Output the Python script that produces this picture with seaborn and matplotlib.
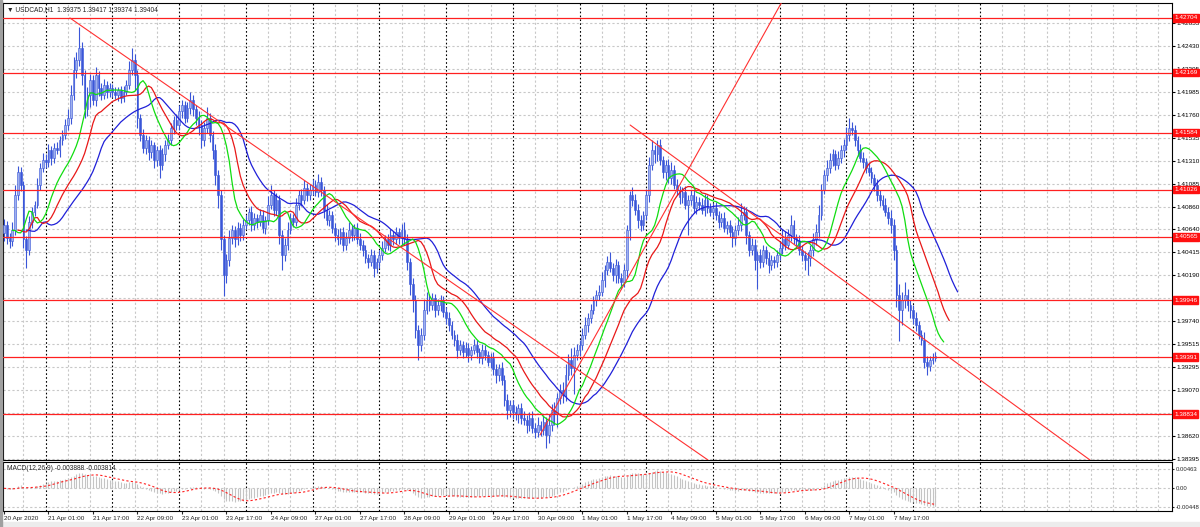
import numpy as np
import pandas as pd
import matplotlib
matplotlib.use('Agg')
import matplotlib.pyplot as plt
from matplotlib.patches import Rectangle
import seaborn as sns

# USDCAD H1 bars, 20 Apr 2020 09:00 .. 8 May 2020 08:00 (one row per day)
first_open = 1.4060
close = [
    1.4068, 1.4055, 1.4052, 1.4063, 1.4097, 1.4120, 1.4107, 1.4054, 1.4044, 1.4071, 1.4081, 1.4088, 1.4107, 1.4124, 1.4132,
    1.4130, 1.4141, 1.4134, 1.4143, 1.4141, 1.4151, 1.4156, 1.4166, 1.4173, 1.4195, 1.4220, 1.4229, 1.4241, 1.4215, 1.4181, 1.4195, 1.4210, 1.4190, 1.4215, 1.4202, 1.4195, 1.4205, 1.4198, 1.4202,
    1.4198, 1.4195, 1.4200, 1.4192, 1.4198, 1.4205, 1.4220, 1.4229, 1.4215, 1.4173, 1.4156, 1.4143, 1.4151, 1.4139, 1.4146, 1.4132, 1.4141, 1.4127, 1.4137, 1.4146, 1.4151, 1.4163, 1.4171, 1.4166,
    1.4179, 1.4185, 1.4173, 1.4182, 1.4190, 1.4181, 1.4173, 1.4166, 1.4151, 1.4163, 1.4173, 1.4156, 1.4141, 1.4117, 1.4097, 1.4054, 1.4019, 1.4034, 1.4055, 1.4063, 1.4054, 1.4065, 1.4058, 1.4068,
    1.4073, 1.4081, 1.4068, 1.4075, 1.4071, 1.4078, 1.4065, 1.4073, 1.4088, 1.4097, 1.4083, 1.4093, 1.4058, 1.4039, 1.4049, 1.4063, 1.4075, 1.4071, 1.4088, 1.4097, 1.4093, 1.4104, 1.4097, 1.4102,
    1.4107, 1.4100, 1.4110, 1.4102, 1.4083, 1.4073, 1.4078, 1.4065, 1.4058, 1.4054, 1.4061, 1.4049, 1.4055, 1.4063, 1.4058, 1.4065, 1.4054, 1.4049, 1.4044, 1.4036, 1.4032, 1.4039, 1.4026, 1.4032,
    1.4039, 1.4046, 1.4054, 1.4049, 1.4058, 1.4054, 1.4061, 1.4055, 1.4063, 1.4054, 1.4032, 1.4010, 1.3995, 1.3966, 1.3951, 1.3961, 1.3985, 1.3995, 1.3990, 1.3997, 1.3985, 1.3990, 1.3995, 1.3983,
    1.3977, 1.3970, 1.3961, 1.3956, 1.3946, 1.3951, 1.3944, 1.3948, 1.3941, 1.3946, 1.3951, 1.3944, 1.3938, 1.3946, 1.3941, 1.3934, 1.3938, 1.3927, 1.3922, 1.3928, 1.3917, 1.3897, 1.3887, 1.3892,
    1.3885, 1.3883, 1.3889, 1.3880, 1.3878, 1.3873, 1.3880, 1.3870, 1.3866, 1.3873, 1.3868, 1.3876, 1.3863, 1.3873, 1.3887, 1.3883, 1.3899, 1.3907, 1.3902, 1.3922, 1.3936, 1.3928, 1.3941, 1.3946,
    1.3951, 1.3961, 1.3970, 1.3977, 1.3985, 1.3995, 1.4000, 1.4003, 1.4014, 1.4024, 1.4032, 1.4026, 1.4019, 1.4029, 1.4016, 1.4012, 1.4024, 1.4063, 1.4097, 1.4093, 1.4083, 1.4073, 1.4068, 1.4078,
    1.4097, 1.4127, 1.4141, 1.4137, 1.4146, 1.4132, 1.4120, 1.4127, 1.4114, 1.4122, 1.4107, 1.4102, 1.4095, 1.4100, 1.4088, 1.4093, 1.4097, 1.4085, 1.4091, 1.4088, 1.4083, 1.4093, 1.4085, 1.4081,
    1.4085, 1.4078, 1.4071, 1.4075, 1.4065, 1.4068, 1.4061, 1.4055, 1.4063, 1.4068, 1.4078, 1.4081, 1.4058, 1.4044, 1.4049, 1.4034, 1.4039, 1.4032, 1.4044, 1.4036, 1.4029, 1.4034, 1.4032, 1.4039,
    1.4046, 1.4054, 1.4049, 1.4058, 1.4068, 1.4055, 1.4052, 1.4044, 1.4039, 1.4034, 1.4036, 1.4044, 1.4054, 1.4061, 1.4078, 1.4102, 1.4117, 1.4124, 1.4132, 1.4137, 1.4127, 1.4134, 1.4141, 1.4146,
    1.4156, 1.4163, 1.4161, 1.4151, 1.4141, 1.4134, 1.4130, 1.4124, 1.4120, 1.4114, 1.4107, 1.4097, 1.4093, 1.4088, 1.4081, 1.4075, 1.4068, 1.4044, 1.4000, 1.3985, 1.3995, 1.4000, 1.3990, 1.3985,
    1.3977, 1.3970, 1.3961, 1.3956, 1.3934, 1.3930, 1.3936, 1.3938, 1.3940,
]
# wick lengths above / below the body, in pips
wick_up = [
    6, 4, 5, 8, 10, 6, 5, 4, 3, 6, 5, 4, 7, 5, 6,
    5, 6, 4, 5, 6, 4, 5, 6, 8, 10, 12, 8, 21, 6, 5, 8, 6, 5, 7, 4, 5, 6, 4, 5,
    4, 5, 3, 4, 6, 5, 8, 12, 6, 5, 4, 6, 5, 4, 5, 3, 4, 5, 6, 5, 6, 5, 4, 6,
    6, 5, 4, 6, 8, 5, 4, 6, 5, 6, 10, 5, 4, 6, 5, 5, 4, 6, 8, 5, 4, 6, 5, 6,
    5, 4, 6, 5, 4, 6, 5, 4, 8, 10, 5, 6, 4, 5, 6, 8, 5, 4, 6, 5, 6, 8, 5, 6,
    6, 5, 8, 5, 4, 6, 5, 4, 5, 6, 4, 5, 6, 8, 5, 4, 5, 6, 4, 5, 4, 6, 5, 4,
    5, 6, 4, 5, 6, 4, 5, 4, 6, 8, 5, 4, 6, 5, 4, 6, 10, 8, 6, 5, 4, 6, 5, 4,
    5, 6, 4, 5, 6, 5, 4, 6, 5, 4, 6, 5, 4, 6, 5, 4, 5, 6, 5, 4, 6, 5, 6, 5,
    5, 6, 4, 5, 6, 4, 5, 6, 5, 8, 4, 6, 5, 10, 6, 8, 5, 6, 8, 10, 6, 12, 8, 6,
    5, 6, 8, 5, 6, 4, 5, 6, 8, 5, 6, 10, 5, 6, 4, 5, 6, 5, 4, 8, 5, 6, 5, 4,
    6, 8, 10, 5, 5, 6, 4, 5, 6, 8, 5, 6, 4, 5, 6, 4, 5, 6, 5, 4, 6, 5, 4, 5,
    5, 6, 4, 5, 6, 4, 5, 6, 5, 8, 12, 6, 5, 4, 6, 5, 4, 6, 5, 4, 6, 5, 4, 5,
    6, 10, 8, 6, 10, 5, 4, 6, 5, 4, 6, 5, 6, 8, 10, 6, 5, 8, 6, 5, 4, 6, 5, 6,
    8, 10, 6, 5, 4, 6, 5, 4, 6, 5, 4, 6, 5, 4, 6, 5, 8, 6, 5, 10, 8, 12, 6, 5,
    5, 6, 4, 5, 8, 6, 4, 5, 4,
]
wick_dn = [
    8, 5, 6, 4, 5, 4, 6, 8, 18, 5, 6, 4, 3, 5, 4,
    6, 5, 7, 5, 4, 6, 5, 4, 5, 6, 5, 8, 6, 10, 8, 6, 12, 5, 6, 8, 5, 4, 6, 5,
    5, 4, 6, 5, 4, 3, 4, 5, 15, 10, 6, 5, 6, 7, 5, 8, 6, 13, 5, 6, 4, 5, 6, 5,
    5, 6, 5, 4, 5, 6, 7, 10, 8, 6, 5, 7, 8, 10, 12, 10, 20, 8, 6, 5, 7, 5, 6, 5,
    4, 5, 6, 5, 6, 4, 5, 6, 5, 4, 6, 5, 8, 15, 6, 5, 4, 5, 4, 5, 6, 4, 5, 4,
    5, 4, 5, 6, 8, 5, 6, 5, 6, 5, 4, 6, 5, 4, 6, 5, 4, 5, 6, 5, 6, 4, 9, 5,
    6, 5, 4, 5, 6, 5, 4, 5, 6, 5, 8, 10, 12, 8, 15, 6, 5, 4, 6, 5, 7, 5, 6, 5,
    6, 5, 4, 6, 8, 5, 6, 5, 7, 5, 4, 6, 5, 6, 5, 4, 6, 5, 8, 6, 5, 6, 8, 6,
    6, 5, 8, 6, 5, 8, 6, 5, 6, 5, 6, 5, 13, 8, 6, 10, 12, 6, 8, 6, 5, 6, 25, 5,
    6, 5, 4, 6, 5, 4, 6, 5, 4, 6, 5, 4, 6, 8, 5, 6, 4, 8, 10, 6, 5, 8, 6, 5,
    5, 6, 5, 8, 6, 5, 6, 8, 5, 6, 4, 5, 6, 5, 4, 30, 5, 5, 6, 5, 4, 6, 5, 4,
    6, 5, 6, 5, 4, 6, 5, 8, 6, 5, 6, 5, 8, 6, 5, 10, 28, 6, 5, 6, 8, 5, 6, 5,
    5, 6, 5, 4, 6, 5, 6, 5, 6, 10, 15, 8, 6, 5, 6, 5, 4, 6, 5, 6, 5, 4, 5, 6,
    5, 6, 5, 6, 5, 4, 6, 5, 4, 5, 6, 5, 6, 5, 4, 6, 8, 10, 12, 30, 15, 8, 6, 8,
    6, 5, 4, 5, 6, 8, 5, 4, 3,
]

levels = [1.42704, 1.42169, 1.41584, 1.41026, 1.40565, 1.39946, 1.39391, 1.38834]
# trend lines: (bar, price) -> (bar, price)
trend_lines = [
    ((23.7, 1.42704), (253.2, 1.38385)),
    ((192.8, 1.38630), (281.0, 1.42920)),
    ((225.2, 1.41658), (390.6, 1.38385)),
]
price_ticks = [1.42655, 1.42430, 1.42205, 1.41985, 1.41760, 1.41535, 1.41310, 1.41085, 1.40860, 1.40640,
               1.40415, 1.40190, 1.39965, 1.39740, 1.39515, 1.39295, 1.39070, 1.38845, 1.38620, 1.38395]
# labels fully covered by a level tag in the chart
hidden_ticks = [1.39965, 1.38845]
time_labels = ['20 Apr 2020', '21 Apr 01:00', '21 Apr 17:00', '22 Apr 09:00', '23 Apr 01:00', '23 Apr 17:00',
               '24 Apr 09:00', '27 Apr 01:00', '27 Apr 17:00', '28 Apr 09:00', '29 Apr 01:00', '29 Apr 17:00',
               '30 Apr 09:00', '1 May 01:00', '1 May 17:00', '4 May 09:00', '5 May 01:00', '5 May 17:00',
               '6 May 09:00', '7 May 01:00', '7 May 17:00']
macd_ticks = [0.00463, 0.0, -0.00448]
macd_tick_labels = ['0.00463', '0.00', '-0.00448']

sns.set_style('white')
plt.rcParams['font.family'] = ['Liberation Sans', 'DejaVu Sans']
fs = 4.6

pip = 0.0001
df = pd.DataFrame({'close': close})
df['bar'] = np.arange(len(df))
df['open'] = df['close'].shift(1).fillna(first_open)
df['high'] = df[['open', 'close']].max(axis=1) + np.array(wick_up) * pip
df['low'] = df[['open', 'close']].min(axis=1) - np.array(wick_dn) * pip

# Alligator (SMMA of median price, shifted forward)
median = (df['high'] + df['low']) / 2
def smma(s, n):
    return s.ewm(alpha=1 / n, adjust=False).mean()
gator = pd.concat([
    pd.DataFrame({'bar': df['bar'] + 8, 'value': smma(median, 13), 'line': 'jaw'}),
    pd.DataFrame({'bar': df['bar'] + 5, 'value': smma(median, 8), 'line': 'teeth'}),
    pd.DataFrame({'bar': df['bar'] + 3, 'value': smma(median, 5), 'line': 'lips'}),
])

# MACD(12,26,9), MT4 style: SMA signal
macd = df['close'].ewm(span=12, adjust=False).mean() - df['close'].ewm(span=26, adjust=False).mean()
signal = macd.rolling(9, min_periods=1).mean()

W, H = 1200, 527
fig = plt.figure(figsize=(12, 5.27), dpi=100)
ax = fig.add_axes([3 / W, 1 - 460 / H, 1169 / W, 457 / H])
ax2 = fig.add_axes([3 / W, 1 - 511 / H, 1169 / W, 49 / H], sharex=ax)

xmin, xmax = -0.36, 420.1
grid_gray = '#c8c8c8'
for a in (ax, ax2):
    for b in range(7, 421, 8):
        if (b - 15) % 24 == 0 and 15 <= b <= 351:
            a.axvline(b, color='black', lw=0.8, ls=(0, (1.5, 2)), zorder=1)
        else:
            a.axvline(b, color=grid_gray, lw=0.8, ls=(0, (2, 2)), zorder=0)
    for s in a.spines.values():
        s.set_color('black')
        s.set_linewidth(0.8)

for t in price_ticks:
    ax.axhline(t, color=grid_gray, lw=0.8, ls=(0, (2, 2)), zorder=0)
for t in macd_ticks:
    ax2.axhline(t, color=grid_gray, lw=0.8, ls=(0, (2, 2)), zorder=0)

# candles
wick_col = '#3a56d8'
ax.vlines(df['bar'], df['low'], df['high'], color=wick_col, lw=0.8, zorder=3)
body = (df['close'] - df['open']).where((df['close'] - df['open']).abs() > 0.00002, 0.00002)
bull = df['close'] >= df['open']
ax.bar(df['bar'][bull], body[bull], bottom=df['open'][bull], width=0.62,
       color='#9fb1ee', edgecolor=wick_col, lw=0.4, zorder=4)
ax.bar(df['bar'][~bull], body[~bull], bottom=df['open'][~bull], width=0.62,
       color='#3a56d8', edgecolor=wick_col, lw=0.4, zorder=4)

sns.lineplot(data=gator, x='bar', y='value', hue='line', estimator=None, sort=False,
             palette={'jaw': '#2020d8', 'teeth': '#e81818', 'lips': '#10dd10'},
             lw=0.9, legend=False, ax=ax, zorder=5)

for lv in levels:
    ax.axhline(lv, color='#ff2020', lw=0.9, zorder=6)
    ax.annotate(f'{lv:.5f}', xy=(1.0, lv), xycoords=('axes fraction', 'data'),
                xytext=(1.5, 0), textcoords='offset points', va='center', ha='left',
                fontsize=fs, color='white', zorder=10, annotation_clip=False,
                bbox=dict(boxstyle='square,pad=0.2', fc='#ff1010', ec='#ff1010'))

for (b0, p0), (b1, p1) in trend_lines:
    ax.plot([b0, b1], [p0, p1], color='#ff3030', lw=0.8, zorder=6)

ax.set_xlim(xmin, xmax)
ax.set_ylim(1.38385, 1.42850)
ax.set_xlabel('')
ax.set_ylabel('')
ax.yaxis.tick_right()
ax.set_yticks(price_ticks)
ax.set_yticklabels(['' if t in hidden_ticks else f'{t:.5f}' for t in price_ticks])
ax.tick_params(axis='y', labelsize=fs, length=2, pad=1.5, colors='black', right=True)
ax.tick_params(axis='x', bottom=False, labelbottom=False)
ax.text(0.003, 0.993, '\u25bc USDCAD,H1  1.39375 1.39417 1.39374 1.39404', transform=ax.transAxes,
        fontsize=fs + 0.2, va='top', ha='left', zorder=12)

# MACD panel
ax2.vlines(df['bar'], 0, macd, color='#c4c4c4', lw=0.8, zorder=3)
sns.lineplot(x=df['bar'], y=signal, color='#ff2020', lw=0.8, ls=(0, (2, 2)), ax=ax2, zorder=4)
ax2.set_ylim(-0.00544, 0.00631)
ax2.set_xlim(xmin, xmax)
ax2.set_xlabel('')
ax2.set_ylabel('')
ax2.yaxis.tick_right()
ax2.set_yticks(macd_ticks)
ax2.set_yticklabels(macd_tick_labels)
ax2.tick_params(axis='y', labelsize=4.3, length=1.5, pad=1, right=True)
ax2.set_xticks(np.arange(0, 16 * len(time_labels), 16))
ax2.set_xticklabels(time_labels, ha='left')
ax2.tick_params(axis='x', labelsize=fs, length=2, pad=1.5, bottom=True)
ax2.text(0.003, 0.93, 'MACD(12,26,9) -0.003888 -0.003814', transform=ax2.transAxes,
         fontsize=fs + 0.2, va='top', ha='left')

fig.patches.append(Rectangle((0, 0), 1, 5 / H, transform=fig.transFigure, color='#ececec', zorder=0))
fig.patches.append(Rectangle((0, 0), 2 / W, 1, transform=fig.transFigure, color='#a0a0a0', zorder=0))

fig.savefig('out.png', dpi=100)
